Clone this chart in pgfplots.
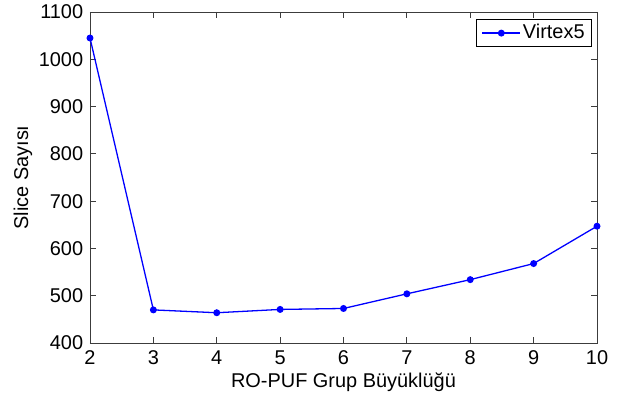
\documentclass[border=0pt]{standalone}
\usepackage{pgfplots}
\pgfplotsset{compat=1.18}
\usepackage{fontspec}
\setmainfont{Liberation Sans}
\definecolor{axgray}{RGB}{60,60,60}
\begin{document}
\fontsize{20}{23}\selectfont
\begin{tikzpicture}
\begin{axis}[
  scale only axis,
  width=507bp, height=331bp,
  xmin=2, xmax=10, ymin=400, ymax=1100,
  xtick={2,...,10},
  ytick={400,500,...,1100},
  tick align=inside,
  major tick length=6bp,
  axis line style={axgray, line width=0.8pt},
  every tick/.style={axgray, line width=0.8pt},
  /pgf/number format/assume math mode=true,
  /pgf/number format/set thousands separator={},
  tick label style={font=\fontsize{20}{23}\selectfont, text=black},
  xticklabel style={yshift=-1bp},
  label style={font=\fontsize{20}{23}\selectfont},
  xlabel={RO-PUF Grup Büyüklüğü},
  ylabel={Slice Sayısı},
  xlabel style={at={(axis description cs:0.5,-0.1178)}, anchor=center},
  ylabel style={at={(axis description cs:-0.1320,0.5)}, anchor=center},
  legend style={at={(1,1)}, anchor=north east, xshift=-5bp, yshift=-7bp,
    draw=black, line width=0.8pt, font=\fontsize{20}{23}\selectfont,
    inner xsep=5bp, inner ysep=3bp},
  legend cell align=left,
  legend image code/.code={
    \draw[#1, mark repeat=2, mark phase=2] plot coordinates {(0bp,0bp) (19bp,0bp) (38bp,0bp)};
  },
]
\addplot[color=blue, line width=1.3pt, mark=*, mark size=2.8bp, mark options={fill=blue, draw=blue}]
coordinates {
(2,1045) (3,470) (4,464) (5,471) (6,473) (7,504) (8,534) (9,568) (10,647)
};
\addlegendentry{Virtex5}
\end{axis}
\pgfresetboundingbox
\path[use as bounding box] (-90bp,-55bp) rectangle (528bp,343bp);
\end{tikzpicture}
\end{document}
